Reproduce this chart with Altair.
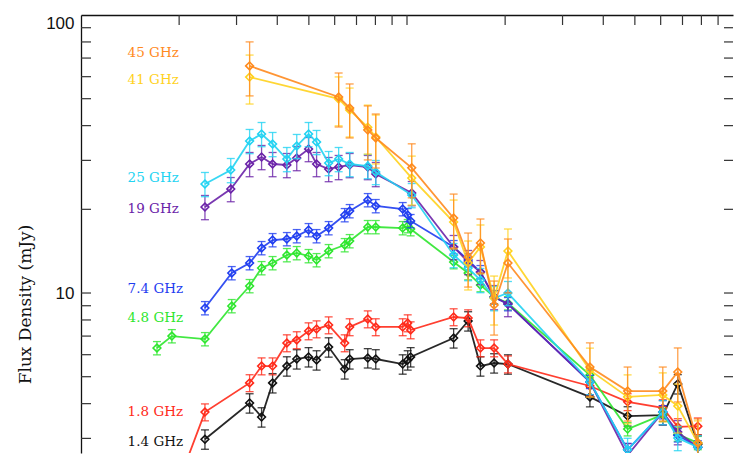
import altair as alt
import pandas as pd

# ---- data ----
labels = ["1.4 GHz", "1.8 GHz", "4.8 GHz", "7.4 GHz", "19 GHz", "25 GHz", "41 GHz", "45 GHz"]
colors = ["#111111", "#FF2A1A", "#2DE62D", "#1F3DF0", "#6A22A8", "#22D3F2", "#FFD21E", "#FF8A1E"]
err_frac = [0.08, 0.07, 0.055, 0.055, 0.10, 0.10, 0.20, 0.22]

x_14 = [2.40, 3.29, 3.58, 3.87, 4.28, 4.59, 4.99, 5.28, 5.75, 6.44, 6.67, 7.58, 8.02, 9.70, 10.05, 10.26,
        13.9, 15.4, 16.8, 18.5, 20.4, 36.4, 47.5, 60.9, 67.7, 78.0]
y_14 = [2.98, 4.02, 3.58, 4.75, 5.46, 5.79, 5.89, 5.74, 6.39, 5.33, 5.79, 5.84, 5.79, 5.55, 5.74, 5.89,
        6.89, 7.93, 5.46, 5.60, 5.55, 4.23, 3.61, 3.64, 4.71, 2.86]

x_18 = [1.90, 2.40, 3.29, 3.58, 3.87, 4.28, 4.59, 4.99, 5.28, 5.75, 6.44, 6.67, 7.58, 8.02, 9.70, 10.05, 10.26,
        13.9, 15.4, 16.8, 18.5, 20.4, 36.4, 47.5, 60.9, 67.7, 78.0]
y_18 = [1.80, 3.73, 4.75, 5.46, 5.46, 6.61, 6.78, 7.30, 7.42, 7.67, 6.61, 7.55, 8.06, 7.55, 7.55, 7.80, 7.36,
        8.20, 8.13, 6.34, 6.34, 5.55, 4.63, 4.06, 3.86, 3.30, 3.32]

x_48 = [1.71, 1.90, 2.40, 2.90, 3.29, 3.58, 3.87, 4.28, 4.59, 4.99, 5.28, 5.75, 6.44, 6.67, 7.58, 8.02, 9.70,
        10.05, 10.26, 13.9, 15.4, 16.8, 18.5, 20.4, 36.4, 47.5, 60.9, 67.7, 78.0]
y_48 = [6.34, 7.00, 6.83, 8.98, 10.60, 12.30, 12.82, 13.70, 13.93, 13.59, 13.14, 14.16, 14.88, 15.38, 17.28,
        17.28, 17.13, 17.42, 16.99, 12.93, 11.80, 10.69, 9.67, 9.20, 5.07, 3.24, 3.65, 3.10, 2.89]

x_74 = [2.40, 2.90, 3.29, 3.58, 3.87, 4.28, 4.59, 4.99, 5.28, 5.75, 6.44, 6.67, 7.58, 8.02, 9.70, 10.05, 10.26,
        13.9, 15.4, 16.8, 18.5, 20.4, 36.4, 47.5, 60.9, 67.7, 78.0]
y_74 = [8.83, 11.80, 12.82, 14.52, 15.51, 15.64, 16.03, 16.85, 16.03, 17.13, 19.08, 19.72, 21.60, 20.56, 20.05,
        19.08, 18.16, 14.64, 13.14, 11.90, 9.67, 9.13, 4.79, 2.73, 3.73, 3.08, 2.79]

x_19 = [2.40, 2.88, 3.29, 3.58, 3.87, 4.28, 4.59, 4.99, 5.28, 5.75, 6.17, 6.67, 7.58, 8.02, 10.34,
        13.9, 15.4, 16.8, 18.5, 20.4, 36.4, 47.5, 60.9, 67.7, 78.0]
y_19 = [20.39, 23.66, 29.11, 30.85, 29.11, 28.87, 30.59, 32.96, 29.11, 27.93, 28.40, 28.87, 28.40, 26.80, 22.89,
        14.64, 12.93, 11.90, 9.67, 9.13, 4.79, 2.61, 3.73, 3.16, 2.79]

x_25 = [2.40, 2.88, 3.29, 3.58, 3.87, 4.28, 4.59, 4.99, 5.28, 5.75, 6.17, 6.67, 7.58, 8.02, 10.34,
        13.9, 15.4, 16.8, 18.5, 20.4, 36.4, 47.5, 60.9, 67.7, 78.0]
y_25 = [24.67, 27.70, 35.23, 37.32, 34.36, 30.34, 33.80, 37.32, 34.94, 29.35, 30.34, 29.11, 28.63, 27.25, 22.51,
        13.70, 12.30, 11.14, 9.59, 10.0, 4.79, 2.73, 3.73, 3.01, 2.79]

x_41 = [3.29, 6.17, 6.67, 7.58, 8.02, 10.34, 13.9, 15.4, 16.8, 18.5, 20.4, 36.4, 47.5, 60.9, 67.7, 78.0]
y_41 = [59.8, 49.9, 45.5, 39.5, 36.4, 25.9, 18.0, 12.82, 14.64, 9.59, 14.16, 5.28, 4.23, 4.30, 3.92, 2.89]

x_45 = [3.29, 6.17, 6.67, 7.58, 8.02, 10.34, 13.9, 15.4, 16.8, 18.5, 20.4, 36.4, 47.5, 60.9, 67.7, 78.0]
y_45 = [65.6, 50.7, 46.3, 38.6, 36.1, 28.2, 18.6, 13.47, 15.13, 9.05, 12.82, 5.42, 4.44, 4.44, 5.20, 2.89]

xs = [x_14, x_18, x_48, x_74, x_19, x_25, x_41, x_45]
ys = [y_14, y_18, y_48, y_74, y_19, y_25, y_41, y_45]

# label anchor positions (data units)
label_x = [1.39] * 8
label_y = [2.91, 3.73, 8.13, 10.3, 20.0, 25.9, 58.4, 73.0]

x_tick_values = [2, 3, 4, 5, 6, 7, 8, 9, 10, 20, 30, 40, 50, 60, 70, 80, 90]
y_tick_values = [3, 4, 5, 6, 7, 8, 9, 10, 20, 30, 40, 50, 60, 70, 80, 90]

W, H = 652, 438
xscale = alt.Scale(type="log", domain=[1, 100], nice=False)
yscale = alt.Scale(type="log", domain=[2.658, 100], nice=False, zero=False)

x_axis = alt.Axis(orient="top", labels=False, ticks=False, domain=True, domainColor="#111111",
                  domainWidth=1.3, grid=False, title=None)
y_axis = alt.Axis(values=[10, 100], format="d", ticks=False, domain=True, domainColor="#111111",
                  domainWidth=1.3, grid=False, labelFont="Liberation Sans", labelFontSize=17,
                  labelColor="#111111", labelPadding=7,
                  labelBaseline=alt.condition("datum.value >= 100", alt.value("top"), alt.value("middle")),
                  title="Flux Density (mJy)", titleFont="DejaVu Serif", titleFontSize=17,
                  titleFontWeight="normal", titleColor="#111111", titleAngle=270,
                  titleX=-56, titleY=289, titleAlign="center", titleBaseline="middle")

X = lambda f: alt.X(f, type="quantitative", scale=xscale, axis=x_axis)
Y = lambda f: alt.Y(f, type="quantitative", scale=yscale, axis=y_axis)

layers = []

# tick marks drawn inward (left, right, top)
yt = pd.DataFrame({"v": y_tick_values})
xt = pd.DataFrame({"v": x_tick_values})
layers.append(alt.Chart(yt).mark_rule(color="#333333", strokeWidth=1.2).encode(
    y=Y("v"), x=alt.value(0), x2=alt.value(10)))
layers.append(alt.Chart(yt).mark_rule(color="#333333", strokeWidth=1.2).encode(
    y=Y("v"), x=alt.value(W - 9), x2=alt.value(W)))
layers.append(alt.Chart(xt).mark_rule(color="#333333", strokeWidth=1.2).encode(
    x=X("v"), y=alt.value(0), y2=alt.value(10)))

for i in range(len(labels)):
    df = pd.DataFrame({"x": xs[i], "y": ys[i]})
    df["lo"] = df["y"] * (1 - err_frac[i])
    df["hi"] = df["y"] * (1 + err_frac[i])
    c = colors[i]
    base = alt.Chart(df)
    layers.append(base.mark_rule(color=c, strokeWidth=1.3, opacity=0.8, clip=True).encode(
        x=X("x"), y=Y("lo"), y2="hi"))
    layers.append(base.mark_tick(color=c, orient="horizontal", size=8, thickness=1.3,
                                 opacity=0.8, clip=True).encode(x=X("x"), y=Y("lo")))
    layers.append(base.mark_tick(color=c, orient="horizontal", size=8, thickness=1.3,
                                 opacity=0.8, clip=True).encode(x=X("x"), y=Y("hi")))
    layers.append(base.mark_line(color=c, strokeWidth=1.8, opacity=0.9, clip=True).encode(
        x=X("x"), y=Y("y")))
    layers.append(base.mark_point(shape="diamond", filled=False, color=c, size=60,
                                  strokeWidth=1.6, opacity=1, clip=True).encode(
        x=X("x"), y=Y("y")))

lab = pd.DataFrame({"t": labels, "x": label_x, "y": label_y, "c": colors})
layers.append(alt.Chart(lab).mark_text(align="left", baseline="middle", font="DejaVu Serif",
                                       fontSize=13.5).encode(
    x=X("x"), y=Y("y"), text="t:N",
    color=alt.Color("c:N", scale=None, legend=None)))

chart = alt.layer(*layers).properties(
    width=W, height=H,
    padding={"left": 81, "top": 15, "right": 1, "bottom": 10},
    autosize=alt.AutoSizeParams(type="none"),
    background="white",
).configure_view(stroke=None)

chart.save("out.html", embed_options={"renderer": "svg", "actions": False})
